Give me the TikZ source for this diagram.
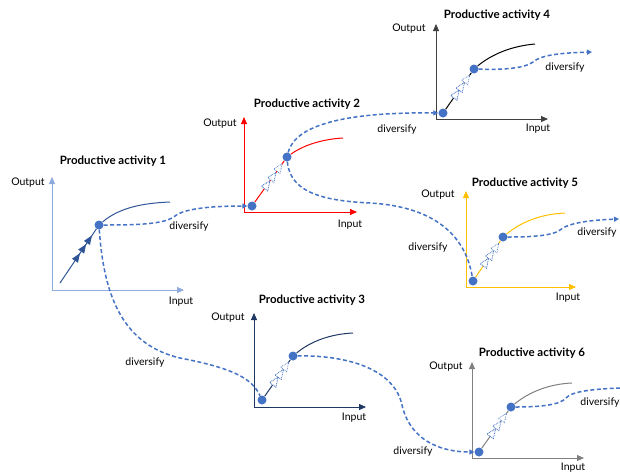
\documentclass[tikz,border=0pt]{standalone}
\usepackage{fontspec}
\setmainfont{Lato}
\usepackage{xcolor}
\usetikzlibrary{arrows.meta}
\usetikzlibrary{decorations.markings}

\definecolor{divblue}{HTML}{4472C4}
\definecolor{axisone}{HTML}{8FAADC}
\definecolor{curveone}{HTML}{2F5597}
\definecolor{navy}{HTML}{203864}
\definecolor{darkgrey}{HTML}{404040}
\definecolor{amber}{HTML}{FFC000}
\definecolor{midgrey}{HTML}{808080}

\begin{document}
\begin{tikzpicture}[x=1pt,y=-1pt,
    every node/.style={font=\fontsize{10.5}{12}\selectfont},
    title/.style={font=\fontsize{11.5}{13}\selectfont\bfseries},
    dot/.style={circle,fill=divblue,inner sep=0pt,minimum size=9pt},
    axis/.style={-{Triangle[length=7pt,width=6pt]},line width=0.8pt},
    growth/.style={line width=1pt},
    div/.style={divblue,line width=1.5pt,dash pattern=on 4pt off 2.5pt},
    divarrow/.style={div,-{Triangle[length=5pt,width=5pt]}},
    openmark/.style={decoration={markings,
      mark=at position #1 with {\draw[divblue,densely dotted,fill=white,line width=0.7pt]
        (3pt,0) -- (-6pt,3.8pt) -- (-6pt,-3.8pt) -- cycle;}},postaction={decorate}},
    openarrows/.style={openmark=0.45,postaction={openmark=0.66,postaction={openmark=0.87}}},
    fullarrows/.style={postaction={decorate},decoration={markings,
      mark=at position 0.55 with {\arrow{Triangle[length=9pt,width=7pt]}},
      mark=at position 0.72 with {\arrow{Triangle[length=9pt,width=7pt]}},
      mark=at position 0.88 with {\arrow{Triangle[length=9pt,width=7pt]}}}}]

    \useasboundingbox (0,0) rectangle (620,475);

    % activity 1
    \node[title] (t1) at (113,161) {Productive activity 1};
    \node (o1) at (28,183) {Output};
    \node (i1) at (181,302) {Input};
    \draw[axis,axisone] (52,290) -- (52,177);
    \draw[axis,axisone] (52,290) -- (184,290);
    \coordinate (a0) at (60,283);
    \coordinate (a2) at (170,202);
    \node[dot] (a1) at (99,225) {};
    \draw[growth,curveone,fullarrows] (a0) -- (a1);
    \draw[growth,curveone] (a1) .. controls (120,207) and (145,203) .. (a2);

    % activity 2
    \node[title] (t2) at (307,104) {Productive activity 2};
    \node (o2) at (220,124) {Output};
    \node (i2) at (350,225) {Input};
    \draw[axis,red] (244,212) -- (244,117);
    \draw[axis,red] (244,212) -- (357,212);
    \coordinate (b2) at (343,138);
    \node[dot] (b0) at (252,206) {};
    \node[dot] (b1) at (287,157) {};
    \draw[growth,red,openarrows] (b0) -- (b1);
    \draw[growth,red] (b1) .. controls (305,144) and (325,139) .. (b2);

    % activity 3
    \node[title] (t3) at (312,300) {Productive activity 3};
    \node (o3) at (228,318) {Output};
    \node (i3) at (354,418) {Input};
    \draw[axis,navy] (254,407) -- (254,313);
    \draw[axis,navy] (254,407) -- (366,407);
    \coordinate (c2) at (353,333);
    \node[dot] (c0) at (262,400) {};
    \node[dot] (c1) at (293,356) {};
    \draw[growth,navy,openarrows] (c0) -- (c1);
    \draw[growth,navy] (c1) .. controls (311,341) and (331,334) .. (c2);

    % activity 4
    \node[title] (t4) at (497,15) {Productive activity 4};
    \node (o4) at (409,29) {Output};
    \node (i4) at (538,129) {Input};
    \draw[axis,darkgrey] (436,119) -- (436,24);
    \draw[axis,darkgrey] (436,119) -- (548,119);
    \coordinate (d2) at (535,44);
    \coordinate (d3) at (592,52);
    \node[dot] (d0) at (443,113) {};
    \node[dot] (d1) at (474,69) {};
    \draw[growth,black,openarrows] (d0) -- (d1);
    \draw[growth,black] (d1) .. controls (492,54) and (512,46) .. (d2);

    % activity 5
    \node[title] (t5) at (525,183) {Productive activity 5};
    \node (o5) at (438,195) {Output};
    \node (i5) at (568,298) {Input};
    \draw[axis,amber] (466,287) -- (466,191);
    \draw[axis,amber] (466,287) -- (576,287);
    \coordinate (e2) at (565,213);
    \coordinate (e3) at (619,219);
    \node[dot] (e0) at (473,281) {};
    \node[dot] (e1) at (503,237) {};
    \draw[growth,amber,openarrows] (e0) -- (e1);
    \draw[growth,amber] (e1) .. controls (521,222) and (541,214) .. (e2);

    % activity 6
    \node[title] (t6) at (532,353) {Productive activity 6};
    \node (o6) at (446,367) {Output};
    \node (i6) at (573,468) {Input};
    \draw[axis,midgrey] (472,458) -- (472,362);
    \draw[axis,midgrey] (472,458) -- (584,458);
    \coordinate (f2) at (572,383);
    \coordinate (f3) at (620,388);
    \node[dot] (f0) at (479,452) {};
    \node[dot] (f1) at (511,407) {};
    \draw[growth,midgrey,openarrows] (f0) -- (f1);
    \draw[growth,midgrey] (f1) .. controls (529,392) and (549,384) .. (f2);

    % diversification paths
    \draw[divarrow] (a1) .. controls (140,225) and (165,224) .. (175,216)
                         .. controls (185,208) and (215,206) .. (b0);
    \node (v1) at (189,227) {diversify};
    \draw[div] (a1) .. controls (104,300) and (125,345) .. (180,358)
                    .. controls (232,368) and (252,378) .. (c0);
    \node (v2) at (145,363) {diversify};
    \draw[divarrow] (b1) .. controls (295,125) and (345,112) .. (d0);
    \node (v3) at (397,130) {diversify};
    \draw[div] (b1) .. controls (290,195) and (330,201) .. (370,203)
                    .. controls (440,207) and (466,240) .. (e0);
    \node (v4) at (428,248) {diversify};
    \draw[divarrow] (c1) .. controls (345,355) and (394,368) .. (402,405)
                         .. controls (410,440) and (440,452) .. (f0);
    \node (v5) at (413,452) {diversify};
    \draw[divarrow] (d1) .. controls (505,70) and (525,68) .. (533,62)
                         .. controls (541,55) and (560,53) .. (d3);
    \node (v6) at (565,68) {diversify};
    \draw[divarrow] (e1) .. controls (530,237) and (552,236) .. (560,230)
                         .. controls (568,223) and (590,220) .. (e3);
    \node (v7) at (597,233) {diversify};
    \draw[div] (f1) .. controls (540,407) and (560,405) .. (566,398)
                    .. controls (572,391) and (595,389) .. (f3);
    \node (v8) at (600,403) {diversify};
  \end{tikzpicture}
\end{document}
